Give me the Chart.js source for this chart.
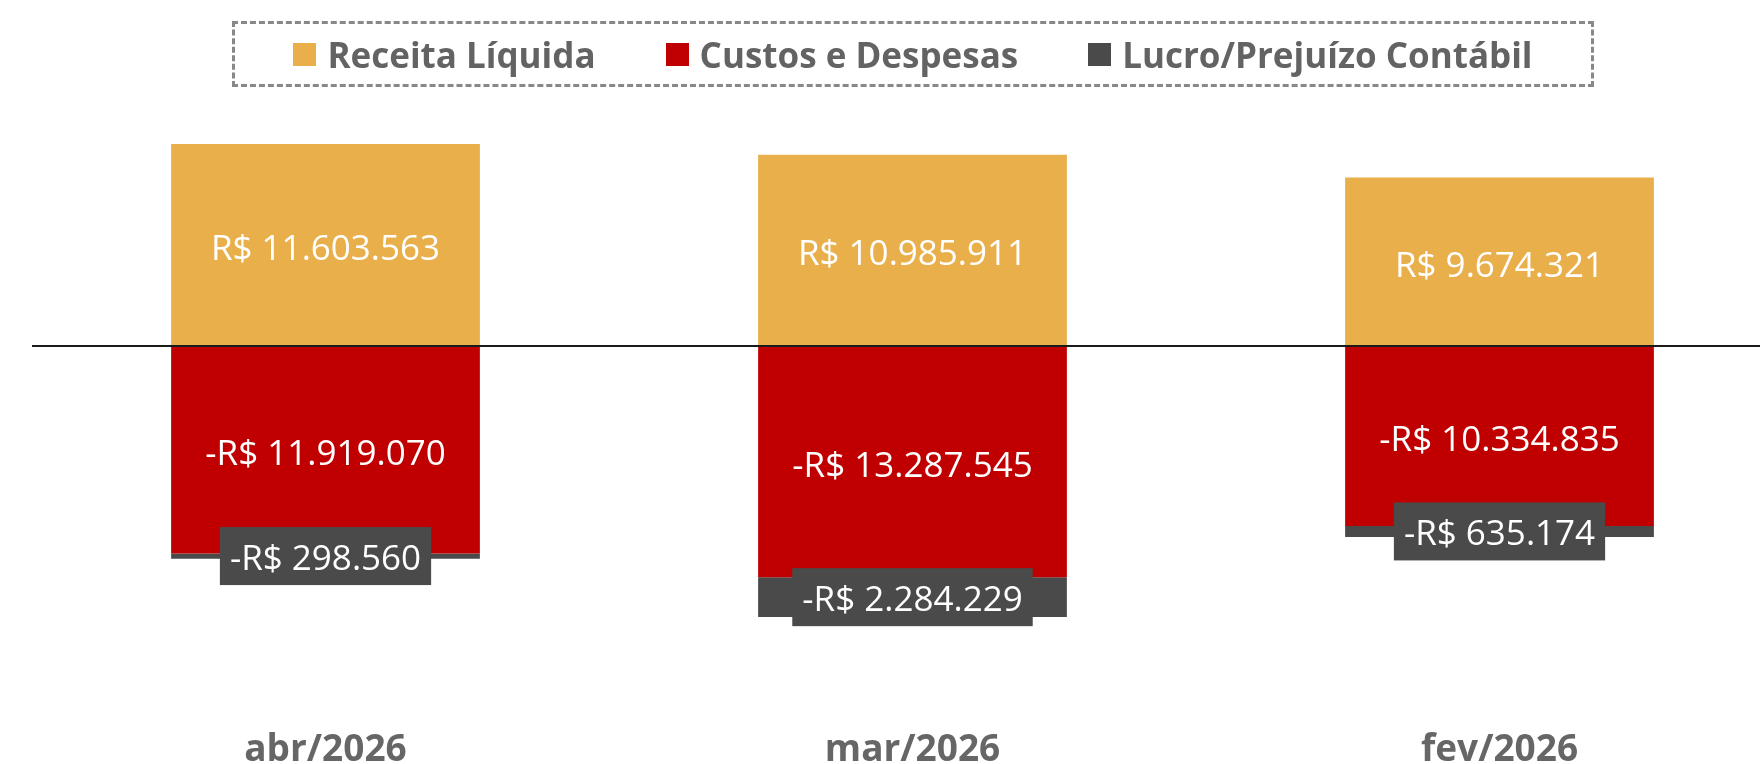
<!DOCTYPE html>
<html>
<head>
<meta charset="utf-8">
<script src="https://cdn.jsdelivr.net/npm/chart.js@4.4.1/dist/chart.umd.min.js"></script>
<style>
    body { margin: 0; overflow: hidden; background: #fff; }
    #wrap { position: relative; width: 1793px; height: 764px; }
    #legend {
        position: absolute; left: 232px; top: 21px; width: 1356px; height: 60px;
        border: 3px dashed #888; display: flex; align-items: center; justify-content: center;
        font-family: 'Segoe UI', 'Open Sans', sans-serif; font-weight: bold; font-size: 35px; color: #636363;
    }
    .item { display: flex; align-items: center; margin: 0 35px; }
    .swatch { width: 23px; height: 23px; margin-right: 11px; }
</style>
</head>
<body>
<div id="wrap">
    <canvas id="mixChart"></canvas>
    <div id="legend"></div>
</div>
<script>
const categories = ['abr/2026', 'mar/2026', 'fev/2026'];
const receita = [11603563, 10985911, 9674321];
const custos = [-11919070, -13287545, -10334835];
const lucro = [-298560, -2284229, -635174];
const seriesNames = ['Receita Líquida', 'Custos e Despesas', 'Lucro/Prejuízo Contábil'];
const seriesColors = ['#E9AF4A', '#C00000', '#4A4A4A'];

function formatBRL(v) {
    let s = Math.abs(v).toString().replace(/\B(?=(\d{3})+(?!\d))/g, '.');
    return (v < 0 ? '-' : '') + 'R$ ' + s;
}

// html legend with dashed frame
let legendHtml = '';
seriesNames.forEach(function (name, i) {
    legendHtml += '<div class="item"><div class="swatch" style="background:' + seriesColors[i] + '"></div>' + name + '</div>';
});
document.getElementById('legend').innerHTML = legendHtml;

const zeroLine = {
    id: 'zeroLine',
    afterDatasetsDraw(chart) {
        let ctx = chart.ctx;
        let y = Math.round(chart.scales.y.getPixelForValue(0));
        ctx.save();
        ctx.strokeStyle = '#1a1a1a';
        ctx.lineWidth = 2;
        ctx.beginPath();
        ctx.moveTo(chart.chartArea.left, y);
        ctx.lineTo(chart.chartArea.right, y);
        ctx.stroke();
        ctx.restore();
    }
};

const barLabels = {
    id: 'barLabels',
    afterDatasetsDraw(chart) {
        let ctx = chart.ctx;
        ctx.save();
        ctx.font = "35px 'Segoe UI', 'Open Sans', sans-serif";
        ctx.textAlign = 'center';
        ctx.textBaseline = 'middle';
        chart.data.datasets.forEach(function (ds, di) {
            let meta = chart.getDatasetMeta(di);
            meta.data.forEach(function (bar, i) {
                let text = formatBRL(ds.data[i]);
                let cy = (bar.y + bar.base) / 2;
                if (di === 2) {
                    let w = ctx.measureText(text).width + 20;
                    ctx.fillStyle = '#4A4A4A';
                    ctx.fillRect(bar.x - w / 2, cy - 29, w, 58);
                    ctx.fillStyle = '#ffffff';
                    ctx.fillText(text, bar.x, cy + 4);
                } else {
                    ctx.fillStyle = '#ffffff';
                    ctx.fillText(text, bar.x, cy + 5);
                }
            });
        });
        ctx.restore();
    }
};

let ctx = document.getElementById('mixChart').getContext('2d');
let mixChart = new Chart(ctx, {
    type: 'bar',
    data: {
        labels: categories,
        datasets: seriesNames.map(function (name, i) {
            return {
                label: name,
                data: [receita, custos, lucro][i],
                backgroundColor: seriesColors[i],
                borderWidth: 0,
                barPercentage: 0.526,
                categoryPercentage: 1,
            };
        }),
    },
    options: {
        responsive: true,
        maintainAspectRatio: false,
        animation: false,
        // negative bottom padding lets the month labels sit partly below the frame, as in the original
        layout: { padding: { left: 32, right: 0, top: 111, bottom: -9 } },
        plugins: {
            legend: { display: false },
            tooltip: { enabled: false },
        },
        scales: {
            x: {
                stacked: true,
                grid: { display: false, drawTicks: false },
                border: { display: false },
                ticks: {
                    color: '#666666',
                    padding: 0,
                    font: { family: "'Segoe UI', 'Open Sans', sans-serif", size: 37, weight: 'bold' },
                },
            },
            y: {
                stacked: true,
                display: false,
                min: -21980000,
                max: 13500000,
            },
        },
    },
    plugins: [zeroLine, barLabels],
});
</script>
</body>
</html>
